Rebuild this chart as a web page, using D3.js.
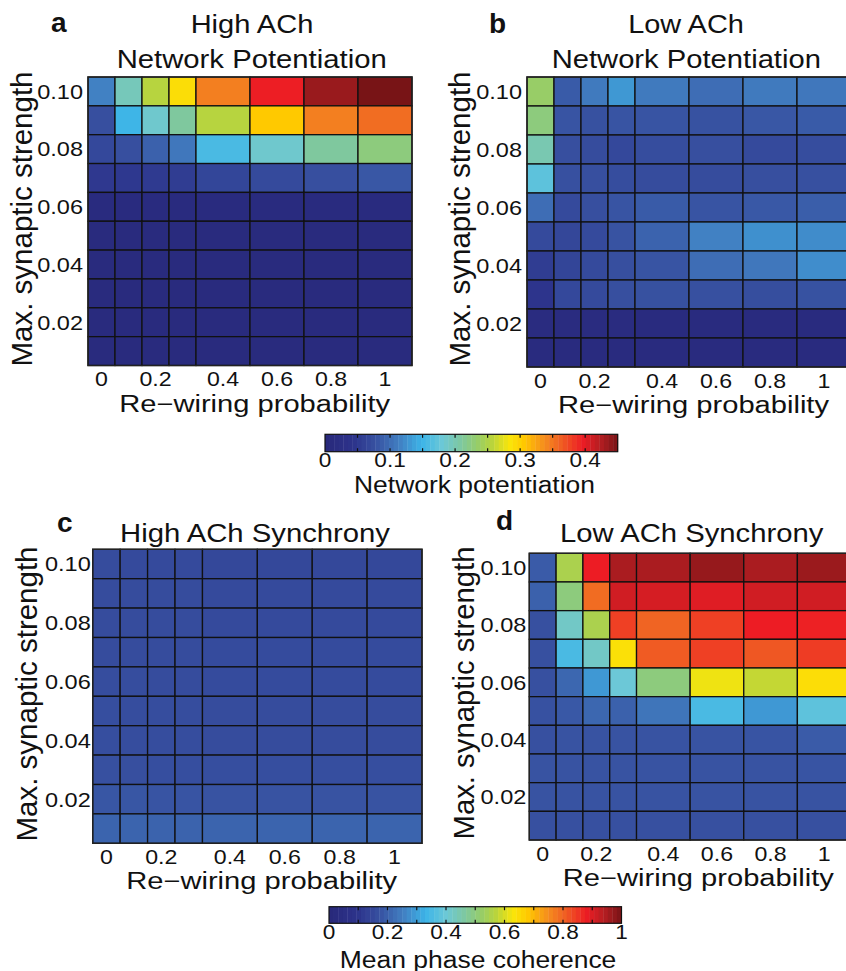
<!DOCTYPE html>
<html>
<head>
<meta charset="utf-8">
<script src="https://cdn.jsdelivr.net/npm/d3@7"></script>
<style>
html,body{margin:0;padding:0;background:#fff;}
svg{display:block;}
text{font-family:"Liberation Sans",Arial,Helvetica,sans-serif;fill:#111;}
</style>
</head>
<body>
<svg id="chart" width="846" height="971"></svg>
<script>
// ---------------- DATA ----------------
const rewiring = [0, 0.1, 0.2, 0.3, 0.4, 0.6, 0.8, 1];
const strength = [0.10, 0.09, 0.08, 0.07, 0.06, 0.05, 0.04, 0.03, 0.02, 0.01];
const xTickValues = [0, 0.2, 0.4, 0.6, 0.8, 1];
const xTickLabels = ["0", "0.2", "0.4", "0.6", "0.8", "1"];
const yTickValues = [0.10, 0.08, 0.06, 0.04, 0.02];
const yTickLabels = ["0.10", "0.08", "0.06", "0.04", "0.02"];

// rows follow `strength` (0.10 at top), columns follow `rewiring`
const potentiationHighACh = [
  [0.115, 0.195, 0.255, 0.290, 0.345, 0.395, 0.435, 0.450],
  [0.075, 0.150, 0.185, 0.210, 0.255, 0.305, 0.345, 0.355],
  [0.068, 0.075, 0.090, 0.108, 0.158, 0.185, 0.210, 0.225],
  [0.050, 0.049, 0.052, 0.055, 0.065, 0.070, 0.075, 0.082],
  [0.012, 0.012, 0.012, 0.012, 0.013, 0.013, 0.013, 0.013],
  [0.011, 0.011, 0.011, 0.011, 0.011, 0.011, 0.011, 0.011],
  [0.011, 0.011, 0.011, 0.011, 0.011, 0.011, 0.011, 0.011],
  [0.011, 0.011, 0.011, 0.011, 0.011, 0.011, 0.011, 0.011],
  [0.011, 0.011, 0.011, 0.011, 0.011, 0.011, 0.011, 0.011],
  [0.011, 0.011, 0.011, 0.011, 0.011, 0.011, 0.011, 0.011]
];
const potentiationLowACh = [
  [0.235, 0.085, 0.110, 0.130, 0.110, 0.100, 0.110, 0.108],
  [0.225, 0.080, 0.077, 0.080, 0.080, 0.078, 0.082, 0.085],
  [0.200, 0.075, 0.072, 0.068, 0.073, 0.075, 0.070, 0.073],
  [0.170, 0.076, 0.075, 0.073, 0.072, 0.072, 0.075, 0.076],
  [0.100, 0.070, 0.075, 0.080, 0.085, 0.080, 0.083, 0.088],
  [0.070, 0.066, 0.070, 0.079, 0.092, 0.115, 0.125, 0.122],
  [0.055, 0.064, 0.070, 0.075, 0.080, 0.100, 0.108, 0.123],
  [0.045, 0.068, 0.070, 0.075, 0.077, 0.076, 0.074, 0.078],
  [0.014, 0.014, 0.014, 0.014, 0.013, 0.013, 0.013, 0.013],
  [0.013, 0.013, 0.013, 0.013, 0.013, 0.013, 0.013, 0.013]
];
const synchronyHighACh = [
  [0.160, 0.155, 0.155, 0.155, 0.150, 0.150, 0.150, 0.150],
  [0.160, 0.160, 0.160, 0.160, 0.155, 0.155, 0.155, 0.155],
  [0.160, 0.160, 0.160, 0.160, 0.155, 0.155, 0.155, 0.155],
  [0.160, 0.160, 0.160, 0.160, 0.158, 0.158, 0.158, 0.158],
  [0.162, 0.162, 0.160, 0.160, 0.158, 0.158, 0.158, 0.158],
  [0.165, 0.163, 0.162, 0.162, 0.160, 0.160, 0.160, 0.160],
  [0.165, 0.163, 0.162, 0.162, 0.160, 0.160, 0.160, 0.160],
  [0.170, 0.168, 0.166, 0.166, 0.165, 0.165, 0.165, 0.165],
  [0.180, 0.180, 0.178, 0.178, 0.176, 0.176, 0.176, 0.176],
  [0.205, 0.205, 0.203, 0.203, 0.205, 0.205, 0.205, 0.205]
];
const synchronyLowACh = [
  [0.190, 0.550, 0.880, 0.950, 0.950, 0.970, 0.950, 0.965],
  [0.200, 0.500, 0.790, 0.910, 0.905, 0.895, 0.910, 0.910],
  [0.170, 0.420, 0.550, 0.840, 0.800, 0.840, 0.880, 0.875],
  [0.170, 0.350, 0.420, 0.640, 0.810, 0.840, 0.815, 0.845],
  [0.170, 0.210, 0.290, 0.400, 0.500, 0.620, 0.580, 0.645],
  [0.172, 0.185, 0.210, 0.200, 0.235, 0.350, 0.290, 0.380],
  [0.170, 0.175, 0.175, 0.175, 0.175, 0.175, 0.178, 0.190],
  [0.175, 0.175, 0.175, 0.175, 0.175, 0.175, 0.175, 0.178],
  [0.175, 0.175, 0.175, 0.175, 0.175, 0.175, 0.175, 0.175],
  [0.170, 0.170, 0.170, 0.170, 0.170, 0.170, 0.170, 0.170]
];

const potentiationTicks = [0, 0.05, 0.1, 0.15, 0.2, 0.25, 0.3, 0.35, 0.4];
const potentiationTickLabels = ["0", "", "0.1", "", "0.2", "", "0.3", "", "0.4"];
const coherenceTicks = [0, 0.1, 0.2, 0.3, 0.4, 0.5, 0.6, 0.7, 0.8, 0.9, 1];
const coherenceTickLabels = ["0", "", "0.2", "", "0.4", "", "0.6", "", "0.8", "", "1"];

// jet-like colour map (as printed)
const cmapStops = [0, 0.10, 0.17, 0.25, 0.33, 0.40, 0.47, 0.52, 0.57, 0.63, 0.68, 0.75, 0.80, 0.88, 0.94, 1];
const cmapColors = ["#28287a", "#2d348c", "#3750a0", "#417dc0", "#3cb4e8", "#6cc8d7", "#80c89b", "#96cd69",
                    "#b9d43c", "#fae60a", "#ffc800", "#f58c1e", "#f06423", "#ed1c24", "#b41e22", "#781416"];

// ---------------- DRAW ----------------
const svg = d3.select("#chart");
svg.append("rect").attr("width", 846).attr("height", 971).attr("fill", "#fff");
const cmap = d3.scaleLinear().domain(cmapStops).range(cmapColors).interpolate(d3.interpolateRgb).clamp(true);

function stretch(sel, k) {
  sel.each(function () {
    const w = this.getComputedTextLength();
    d3.select(this).attr("textLength", w * k).attr("lengthAdjust", "spacingAndGlyphs");
  });
}
function fixedText(g, x, y, str, size, width, opts = {}) {
  const t = g.append("text").attr("x", x).attr("y", y).text(str)
    .attr("font-size", size).attr("text-anchor", opts.anchor || "middle");
  if (opts.bold) t.attr("font-weight", "bold");
  if (opts.rotate) t.attr("transform", `rotate(-90,${x},${y})`);
  if (width) t.attr("textLength", width).attr("lengthAdjust", "spacingAndGlyphs");
  return t;
}

// column layout derived from the rewiring values (step to neighbour -> width units)
const steps = rewiring.map((v, i) => i < rewiring.length - 1 ? rewiring[i + 1] - v : v - rewiring[i - 1]);
const minStep = d3.min(steps);
const units = steps.map(s => Math.round(s / minStep));
const edges = [0, ...d3.cumsum(units)];

function heatmap(p) {
  const g = svg.append("g");
  const u = d3.scaleLinear().domain([0, edges[edges.length - 1]]).range([p.left, p.right]);
  const y = d3.scaleBand().domain(strength).range([p.top, p.bottom]).paddingInner(0).paddingOuter(0);
  const color = v => cmap(v / p.max);
  const cells = [];
  p.data.forEach((row, ri) => row.forEach((v, ci) => cells.push({ s: strength[ri], ci, v })));
  g.selectAll("rect.cell").data(cells).join("rect").attr("class", "cell")
    .attr("x", d => u(edges[d.ci])).attr("width", d => u(edges[d.ci + 1]) - u(edges[d.ci]))
    .attr("y", d => y(d.s)).attr("height", y.bandwidth())
    .attr("fill", d => color(d.v)).attr("stroke", "#111").attr("stroke-width", 1.3);
  g.append("rect").attr("x", p.left).attr("y", p.top).attr("width", p.right - p.left).attr("height", p.bottom - p.top)
    .attr("fill", "none").attr("stroke", "#222").attr("stroke-width", 1.4);

  // x tick labels
  const xc = v => { const i = rewiring.indexOf(v); return u((edges[i] + edges[i + 1]) / 2); };
  const xt = g.selectAll("text.xt").data(xTickValues).join("text").attr("class", "xt")
    .attr("x", d => xc(d)).attr("y", p.bottom + 20.5).attr("text-anchor", "middle").attr("font-size", 20.5)
    .text((d, i) => xTickLabels[i]);
  stretch(xt, 1.13);
  // y tick labels via axis
  const ax = g.append("g").attr("transform", `translate(${p.left - p.ygap},0)`)
    .call(d3.axisLeft(y).tickValues(yTickValues).tickSize(0).tickPadding(0)
      .tickFormat(d => yTickLabels[yTickValues.indexOf(d)]));
  ax.select(".domain").remove();
  ax.selectAll("text").attr("font-size", 21).attr("font-family", null).attr("fill", "#111")
    .attr("dy", "0.35em").attr("text-anchor", "end");
  stretch(ax.selectAll("text"), 1.12);

  // axis labels
  fixedText(g, p.xlabX, p.bottom + 46, "Re\u2212wiring probability", 23, 271);
  fixedText(g, p.ylab[0], p.ylab[1], "Max. synaptic strength", 29, p.ylab[2], { rotate: true });
  // titles
  p.titles.forEach(t => fixedText(g, t[0], t[1], t[2], 25, t[3]));
  fixedText(g, p.letter[0], p.letter[1], p.letter[2], 28, null, { bold: true, anchor: "start" });
}

heatmap({ data: potentiationHighACh, max: 0.45, left: 88, right: 412, top: 77, bottom: 365.5, ygap: 5,
  xlabX: 254.7, ylab: [32.3, 219, 295],
  titles: [[252, 33.3, "High ACh", 122.7], [251.7, 67.7, "Network Potentiation", 270]],
  letter: [51, 32, "a"] });
heatmap({ data: potentiationLowACh, max: 0.45, left: 527, right: 851, top: 77, bottom: 367, ygap: 5,
  xlabX: 693.5, ylab: [470, 219, 295],
  titles: [[686, 33.3, "Low ACh", 115.7], [686.3, 67.7, "Network Potentiation", 269.3]],
  letter: [489, 33, "b"] });
heatmap({ data: synchronyHighACh, max: 1, left: 92.7, right: 422, top: 549.3, bottom: 843.3, ygap: 2,
  xlabX: 261.7, ylab: [37.3, 694, 295],
  titles: [[255, 541.7, "High ACh Synchrony", 270]],
  letter: [57, 531.5, "c"] });
heatmap({ data: synchronyLowACh, max: 1, left: 529.3, right: 851, top: 553.3, bottom: 840, ygap: 3,
  xlabX: 698.3, ylab: [474, 693, 293],
  titles: [[691.7, 541.7, "Low ACh Synchrony", 263.3]],
  letter: [496, 530, "d"] });

function colorbar(p) {
  const g = svg.append("g");
  const x = d3.scaleLinear().domain([0, p.max]).range([p.left, p.right]);
  const n = 64;
  const bins = d3.range(n);
  g.selectAll("rect.bin").data(bins).join("rect").attr("class", "bin")
    .attr("x", i => x(i * p.max / n)).attr("width", i => x((i + 1) * p.max / n) - x(i * p.max / n) + 0.4)
    .attr("y", p.top).attr("height", p.bottom - p.top)
    .attr("fill", i => cmap((i + 0.5) / n));
  g.append("rect").attr("x", p.left).attr("y", p.top).attr("width", p.right - p.left).attr("height", p.bottom - p.top)
    .attr("fill", "none").attr("stroke", "#111").attr("stroke-width", 1.2);
  const inner = p.ticks.filter(t => t > 0 && t < p.max);
  g.selectAll("line.tt").data(inner).join("line").attr("class", "tt")
    .attr("x1", d => x(d)).attr("x2", d => x(d)).attr("y1", p.top).attr("y2", p.top + 3.5)
    .attr("stroke", "#111").attr("stroke-width", 1.2);
  g.selectAll("line.tb").data(inner).join("line").attr("class", "tb")
    .attr("x1", d => x(d)).attr("x2", d => x(d)).attr("y1", p.bottom).attr("y2", p.bottom - 3.5)
    .attr("stroke", "#111").attr("stroke-width", 1.2);
  const lab = g.selectAll("text.cl").data(p.ticks.map((t, i) => ({ t, l: p.labels[i] })).filter(d => d.l))
    .join("text").attr("class", "cl")
    .attr("x", d => x(d.t)).attr("y", p.bottom + 15.5).attr("text-anchor", "middle").attr("font-size", 20)
    .text(d => d.l);
  stretch(lab, 1.13);
  fixedText(g, p.title[0], p.title[1], p.title[2], 23, p.title[3]);
}
colorbar({ max: 0.45, left: 325, right: 617.7, top: 434.3, bottom: 451.7, ticks: potentiationTicks,
  labels: potentiationTickLabels, title: [474.5, 492.5, "Network potentiation", 241] });
colorbar({ max: 1, left: 329, right: 621.5, top: 906.7, bottom: 923.3, ticks: coherenceTicks,
  labels: coherenceTickLabels, title: [478, 967.5, "Mean phase coherence", 276.7] });
</script>
</body>
</html>
